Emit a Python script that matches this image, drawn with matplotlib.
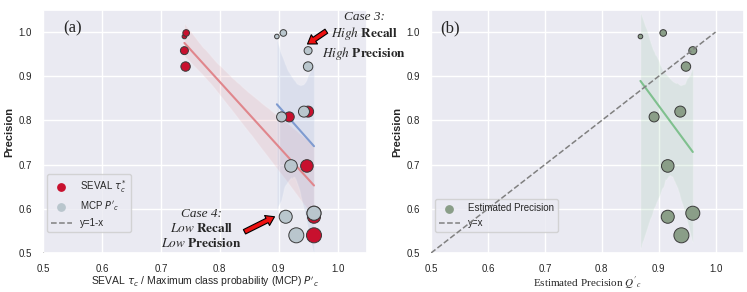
import numpy as np
import matplotlib
matplotlib.use("Agg")
import matplotlib.pyplot as plt
import seaborn as sns

# precision per class and the three confidence estimates
precision = [0.990, 0.998, 0.958, 0.922, 0.808, 0.820, 0.697, 0.582, 0.590, 0.540]
seval_tau = [0.740, 0.743, 0.740, 0.742, 0.918, 0.950, 0.948, 0.960, 0.960, 0.960]
mcp_p = [0.897, 0.908, 0.950, 0.950, 0.905, 0.943, 0.921, 0.912, 0.960, 0.930]
est_q = [0.868, 0.908, 0.960, 0.948, 0.892, 0.938, 0.916, 0.916, 0.960, 0.940]
support = [11, 23, 33, 46, 52, 63, 82, 88, 102, 117]

diag_x = [0.5, 1.0]
ticks = [0.5, 0.6, 0.7, 0.8, 0.9, 1.0]

sns.set_theme(style="darkgrid")
plt.rcParams['font.family'] = ['Liberation Sans', 'DejaVu Sans']
plt.rcParams['font.size'] = 7

RED = '#c8102e'
GREY = '#b9c6cd'
GREEN = '#8a9e88'
EDGE = '#3a3a3a'

fig = plt.figure(figsize=(7.47, 2.92), dpi=100)
ax1 = fig.add_axes([0.0576, 0.1336, 0.4337, 0.8322])
ax2 = fig.add_axes([0.577, 0.1336, 0.419, 0.8322])

# ---- panel (a)
ax1.scatter(seval_tau, precision, s=support, color=RED, edgecolor=EDGE, linewidth=0.7, zorder=3)
sns.regplot(x=np.array(seval_tau), y=np.array(precision), ax=ax1, scatter=False, color='#d0505a',
            seed=3, line_kws=dict(color='#e0868c', lw=1.5))
ax1.scatter(mcp_p, precision, s=support, color=GREY, edgecolor=EDGE, linewidth=0.7, zorder=4)
sns.regplot(x=np.array(mcp_p), y=np.array(precision), ax=ax1, scatter=False, color='#4c72b0',
            seed=11, line_kws=dict(color='#7f9bd0', lw=1.5))
ax1.plot(diag_x, [1 - v for v in diag_x], '--', color='grey', lw=1.1, zorder=6)

h1 = ax1.scatter([], [], s=28, color=RED, label=r"SEVAL $\tau^*_c$")
h2 = ax1.scatter([], [], s=28, color=GREY, label=r"MCP $P'_c$")
h3, = ax1.plot([], [], '--', color='grey', lw=1.1, label='y=1-x')
ax1.legend(handles=[h1, h2, h3], loc='lower left', bbox_to_anchor=(0.0, 0.07),
           fontsize=7, borderaxespad=0.4, handlelength=2.2)

ax1.text(0.55, 1.009, '(a)', family='Liberation Serif', fontsize=12, ha='center', va='center')
ax1.text(1.045, 0.99, "Case 3:\n$\\mathit{High}$ $\\mathbf{Recall}$\n$\\mathit{High}$ $\\mathbf{Precision}$",
         family='Liberation Serif', style='italic', math_fontfamily='stix', fontsize=9.5,
         ha='center', va='center', multialignment='center', clip_on=False, zorder=8)
ax1.text(0.769, 0.555, "Case 4:\n$\\mathit{Low}$ $\\mathbf{Recall}$\n$\\mathit{Low}$ $\\mathbf{Precision}$",
         family='Liberation Serif', style='italic', math_fontfamily='stix', fontsize=9.5,
         ha='center', va='center', multialignment='center', zorder=8)
arrow = dict(facecolor='#ee1111', edgecolor='black', width=3.5, headwidth=8, headlength=6, lw=0.8)
ax1.annotate('', xy=(0.949, 0.973), xytext=(0.981, 1.002), arrowprops=arrow, annotation_clip=False, zorder=9)
ax1.annotate('', xy=(0.893, 0.582), xytext=(0.842, 0.548), arrowprops=arrow, zorder=9)

ax1.set_xlabel(r"SEVAL $\tau_c$ / Maximum class probability (MCP) $P'_c$", fontsize=7.5, labelpad=0.5)

# ---- panel (b)
ax2.scatter(est_q, precision, s=support, color=GREEN, edgecolor=EDGE, linewidth=0.7, zorder=3)
sns.regplot(x=np.array(est_q), y=np.array(precision), ax=ax2, scatter=False, color='#55a868',
            seed=5, line_kws=dict(color='#7fc08e', lw=1.5))
ax2.plot(diag_x, diag_x, '--', color='grey', lw=1.1, zorder=6)
g1 = ax2.scatter([], [], s=28, color=GREEN, label='Estimated Precision')
g2, = ax2.plot([], [], '--', color='grey', lw=1.1, label='y=x')
ax2.legend(handles=[g1, g2], loc='lower left', bbox_to_anchor=(0.0, 0.07),
           fontsize=7, borderaxespad=0.4, handlelength=2.2)
ax2.text(0.534, 1.009, '(b)', family='Liberation Serif', fontsize=12, ha='center', va='center')
ax2.set_xlabel(r"Estimated Precision $Q'_c$", family='Liberation Serif', math_fontfamily='stix',
               fontsize=8, labelpad=0.5)

for ax in (ax1, ax2):
    ax.set_xlim(0.5, 1.05)
    ax.set_ylim(0.5, 1.05)
    ax.set_xticks(ticks)
    ax.set_yticks(ticks)
    ax.tick_params(labelsize=7, pad=2)
    ax.set_ylabel('Precision', fontweight='bold', fontsize=8, labelpad=3)

fig.savefig('out.png', dpi=100)
